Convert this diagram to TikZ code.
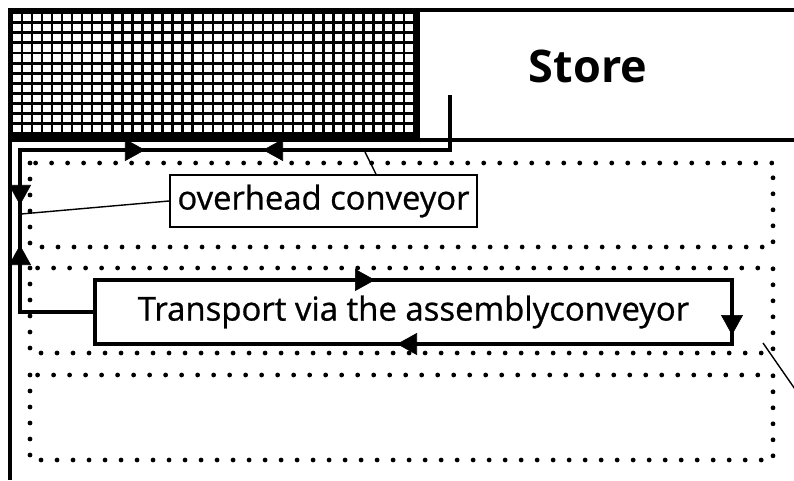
\documentclass[tikz,border=0pt]{standalone}
\usepackage{fontspec}
\setmainfont{Open Sans}
\newfontfamily\tagfont[FakeBold=0.8]{Open Sans}
\usetikzlibrary{arrows.meta, positioning, calc}
\tikzset{
  frame/.style  = {line width=2.8pt},
  conv/.style   = {line width=2.8pt},
  head/.style   = {-{Triangle[length=5mm, width=5.5mm]}, line width=0.4pt},
  lane/.style   = {line width=3.4pt, line cap=round, dash pattern=on 0pt off 0.4cm},
  tag/.style    = {draw, fill=white, line width=1.2pt, inner sep=0pt,
                   font=\tagfont\fontsize{23.3}{27}\selectfont},
  leader/.style = {line width=1pt}
}

\begin{document}
\begin{tikzpicture}[x=0.025cm, y=-0.025cm]
  \useasboundingbox (0,0) rectangle (794,480);

  % ── Assembly lanes (dotted) ───────────────────────────────────────────────
  \foreach \t/\b in {163/247, 268/353, 375/460}
    \draw[lane] (30,\t) rectangle (773,\b);

  % ── Hatched storage block ─────────────────────────────────────────────────
  \fill (10,10) rectangle (418,140);
  \foreach \i in {0,...,39}
    \foreach \j in {0,...,11}
      \fill[white] ({13+10.05*\i},{14+10.1*\j}) rectangle +(7.6,7.2);

  % ── Hall outline and store ────────────────────────────────────────────────
  \draw[frame] (10,480) -- (10,10) -- (794,10);
  \draw[frame] (418,10) -- (418,140);
  \draw[frame] (10,140) -- (794,140);
  \node[font=\bfseries\fontsize{32}{36}\selectfont] (store) at (588,66) {Store};

  % ── Conveyor loop ─────────────────────────────────────────────────────────
  \node[draw, fill=white, line width=2.8pt, minimum width=15.93cm,
        minimum height=1.6cm, inner sep=0pt,
        font=\tagfont\fontsize{23.4}{27}\selectfont] (trans) at (413.5,312)
        {Transport via the assemblyconveyor};
  \coordinate (inlet) at (450,95);
  \coordinate (bend)  at (20,150);
  \draw[conv] (inlet) |- (bend) |- (trans.west);

  % flow direction marks
  \draw[head] (125,150) -- (145,150);
  \draw[head] (283,150) -- (263,150);
  \draw[head] (20,185)  -- (20,205);
  \draw[head] (20,265)  -- (20,245);
  \draw[head] (355,280) -- (375,280);
  \draw[head] (732,315) -- (732,335);
  \draw[head] (417,344) -- (397,344);

  % ── Labels ────────────────────────────────────────────────────────────────
  \node[tag, minimum width=7.68cm, minimum height=1.3cm] (over) at (323.5,201)
        {overhead conveyor};
  \coordinate (tapL) at (21,214);
  \coordinate (tapT) at (365,152);
  \draw[leader] (over.west) -- (tapL);
  \draw[leader] ($(over.north west)!0.67!(over.north east)$) -- (tapT);

  \coordinate (rl1) at (763,343);
  \coordinate (rl2) at (797,392);
  \draw[leader] (rl1) -- (rl2);

\end{tikzpicture}
\end{document}
